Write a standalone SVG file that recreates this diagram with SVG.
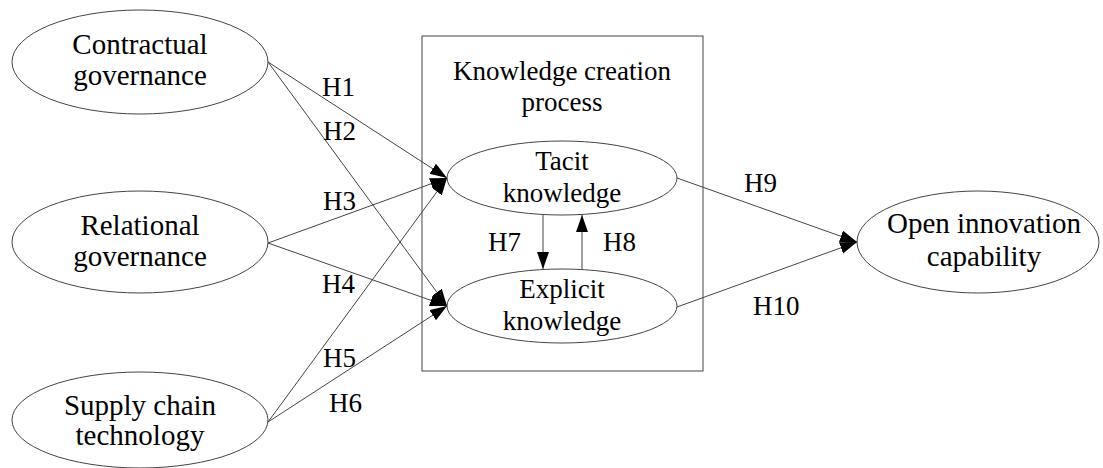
<svg xmlns="http://www.w3.org/2000/svg" width="1103" height="468" viewBox="0 0 1103 468">
<style>
.n{fill:none;stroke:#444;stroke-width:1}
.t{font-family:'Liberation Serif',serif;font-size:27px;fill:#000;text-anchor:middle}
.c{font-family:'Liberation Serif',serif;font-size:29px;fill:#000;text-anchor:middle}
.l{font-family:'Liberation Serif',serif;font-size:27px;fill:#000}
.e{fill:none;stroke:#444;stroke-width:1;marker-end:url(#a)}
</style>
<defs>
<marker id="a" markerUnits="userSpaceOnUse" markerWidth="18" markerHeight="13" refX="17" refY="6" orient="auto">
<path d="M0,0 L17,6 L0,12 z" fill="#000"/>
</marker>
</defs>
<rect x="422" y="36" width="281" height="335" class="n"/>
<g id="contractual">
<ellipse cx="140" cy="62" rx="128" ry="52" class="n"/>
<text class="c" x="140" y="54" font-family="Liberation Serif">Contractual</text>
<text class="c" x="140" y="85" font-family="Liberation Serif">governance</text>
</g>
<g id="relational">
<ellipse cx="140" cy="242" rx="128" ry="51" class="n"/>
<text class="c" x="140" y="235" font-family="Liberation Serif">Relational</text>
<text class="c" x="140" y="266" font-family="Liberation Serif">governance</text>
</g>
<g id="supply">
<ellipse cx="140" cy="420" rx="128" ry="48" class="n"/>
<text class="c" x="140" y="415" font-family="Liberation Serif">Supply chain</text>
<text class="c" x="140" y="445" font-family="Liberation Serif">technology</text>
</g>
<g id="kcp">
<text class="t" x="562" y="80" font-family="Liberation Serif">Knowledge creation</text>
<text class="t" x="562" y="111" font-family="Liberation Serif">process</text>
</g>
<g id="tacit">
<ellipse cx="562" cy="178" rx="115" ry="37" class="n"/>
<text class="t" x="562" y="170" font-family="Liberation Serif">Tacit</text>
<text class="t" x="562" y="202" font-family="Liberation Serif">knowledge</text>
</g>
<g id="explicit">
<ellipse cx="562" cy="306" rx="115" ry="37" class="n"/>
<text class="t" x="562" y="298" font-family="Liberation Serif">Explicit</text>
<text class="t" x="562" y="330" font-family="Liberation Serif">knowledge</text>
</g>
<g id="open">
<ellipse cx="978" cy="242" rx="121" ry="51" class="n"/>
<text class="c" x="984" y="233" font-family="Liberation Serif">Open innovation</text>
<text class="c" x="984" y="266" font-family="Liberation Serif">capability</text>
</g>
<g id="connectors">
<line x1="268" y1="62" x2="447" y2="178" class="e"/>
<line x1="268" y1="62" x2="447" y2="306" class="e"/>
<line x1="268" y1="243" x2="447" y2="178" class="e"/>
<line x1="268" y1="243" x2="447" y2="306" class="e"/>
<line x1="268" y1="422" x2="447" y2="178" class="e"/>
<line x1="268" y1="422" x2="447" y2="306" class="e"/>
<line x1="543" y1="215" x2="543" y2="269" class="e"/>
<line x1="582" y1="269" x2="582" y2="215" class="e"/>
<line x1="677" y1="178" x2="857" y2="242" class="e"/>
<line x1="677" y1="307" x2="857" y2="242" class="e"/>
</g>
<g id="labels">
<text class="l" x="322" y="96" font-family="Liberation Serif">H1</text>
<text class="l" x="323" y="140" font-family="Liberation Serif">H2</text>
<text class="l" x="323" y="210" font-family="Liberation Serif">H3</text>
<text class="l" x="322" y="293" font-family="Liberation Serif">H4</text>
<text class="l" x="323" y="367" font-family="Liberation Serif">H5</text>
<text class="l" x="329" y="412" font-family="Liberation Serif">H6</text>
<text class="l" x="488" y="251" font-family="Liberation Serif">H7</text>
<text class="l" x="603" y="251" font-family="Liberation Serif">H8</text>
<text class="l" x="744" y="192" font-family="Liberation Serif">H9</text>
<text class="l" x="753" y="315" font-family="Liberation Serif">H10</text>
</g>
</svg>
